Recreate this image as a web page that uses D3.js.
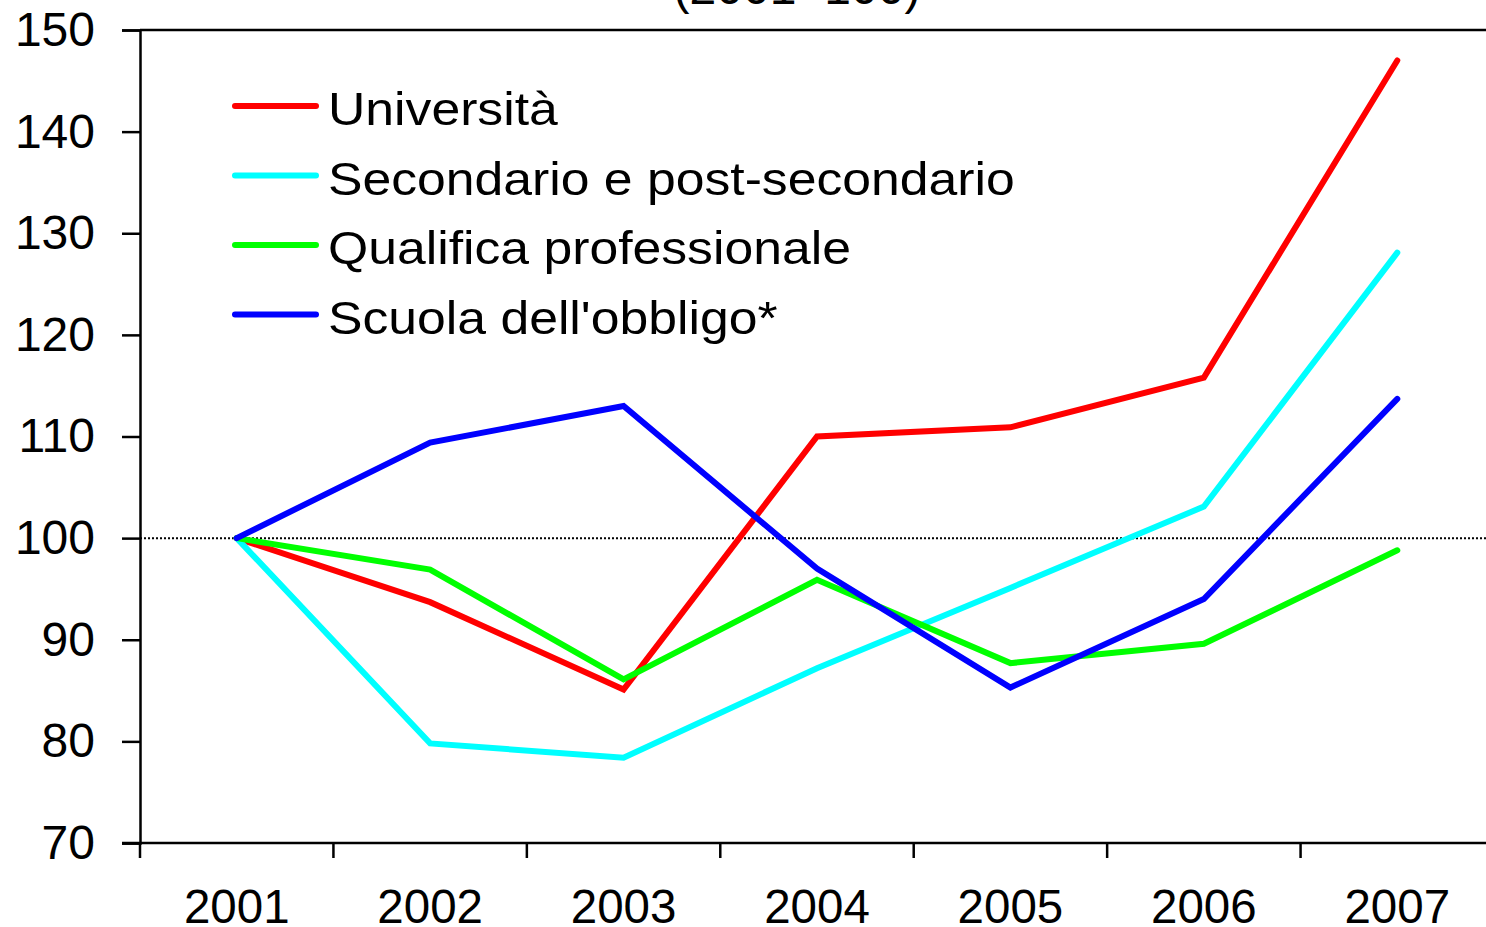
<!DOCTYPE html>
<html>
<head>
<meta charset="utf-8">
<script src="https://cdn.jsdelivr.net/npm/d3@7"></script>
<style>
  body { margin: 0; background: #fff; }
  svg { display: block; font-family: "Liberation Sans", Arial, sans-serif; }
</style>
</head>
<body>
<div id="chart-area"></div>
<script>
// data
const years = ["2001", "2002", "2003", "2004", "2005", "2006", "2007"];
const universita = [100, 93.7, 85.1, 110, 110.9, 115.8, 147];
const secondario = [100, 79.8, 78.4, 87.2, 95.1, 103.1, 128.1];
const qualifica = [100, 96.9, 86.1, 95.9, 87.7, 89.6, 98.8];
const obbligo = [100, 109.4, 113, 97, 85.3, 94, 113.7];
const seriesNames = ["Università", "Secondario e post-secondario", "Qualifica professionale", "Scuola dell'obbligo*"];
const yTicks = [70, 80, 90, 100, 110, 120, 130, 140, 150];

const series = [
    { name: seriesNames[0], values: universita, color: "#ff0000" },
    { name: seriesNames[1], values: secondario, color: "#00ffff" },
    { name: seriesNames[2], values: qualifica, color: "#00ff00" },
    { name: seriesNames[3], values: obbligo, color: "#0000ff" }
];

const W = 1486, H = 927;
const LEFT = 140, RIGHT = 1494, TOP = 30, BOTTOM = 843;

const svg = d3.select("#chart-area").append("svg")
    .attr("width", W)
    .attr("height", H)

const x = d3.scaleBand()
    .domain(years)
    .range([LEFT, RIGHT])

const y = d3.scaleLinear()
    .domain([70, 150])
    .range([BOTTOM, TOP])

// title (cut off at the top)
svg.append("text")
    .attr("x", 797)
    .attr("y", 4)
    .attr("text-anchor", "middle")
    .attr("font-size", 48)
    .text("(2001=100)")

// top border
svg.append("line")
    .attr("x1", LEFT).attr("x2", W)
    .attr("y1", y(150)).attr("y2", y(150))
    .attr("stroke", "#000").attr("stroke-width", 2.5)

// reference line at 100
svg.append("line")
    .attr("x1", LEFT).attr("x2", W)
    .attr("y1", y(100)).attr("y2", y(100))
    .attr("stroke", "#000").attr("stroke-width", 2)
    .attr("stroke-dasharray", "2,2")

// y axis
const yAxis = svg.append("g")
    .attr("transform", `translate(${LEFT},0)`)
    .call(d3.axisLeft(y).tickValues(yTicks).tickSize(18).tickPadding(27))
yAxis.select(".domain").attr("stroke-width", 2.5)
yAxis.selectAll(".tick line").attr("stroke-width", 2.5)
yAxis.selectAll("text")
    .attr("font-size", 48)
    .attr("font-family", "Liberation Sans, Arial, sans-serif")
    .attr("fill", "#000")

// x axis, ticks sit between the years
const xAxis = svg.append("g")
    .attr("transform", `translate(0,${BOTTOM})`)
xAxis.append("line")
    .attr("x1", LEFT - 18).attr("x2", W)
    .attr("stroke", "#000").attr("stroke-width", 2.5)
xAxis.selectAll(".tk")
    .data(years)
    .enter().append("line")
    .attr("class", "tk")
    .attr("x1", d => x(d)).attr("x2", d => x(d))
    .attr("y1", 0).attr("y2", 15)
    .attr("stroke", "#000").attr("stroke-width", 2.5)
xAxis.selectAll(".lbl")
    .data(years)
    .enter().append("text")
    .attr("class", "lbl")
    .attr("x", d => x(d) + x.bandwidth() / 2)
    .attr("y", 80)
    .attr("text-anchor", "middle")
    .attr("font-size", 47.5)
    .text(d => d)

// lines
const line = d3.line()
    .x((d, i) => x(years[i]) + x.bandwidth() / 2)
    .y(d => y(d))

svg.selectAll(".series")
    .data(series)
    .enter().append("path")
    .attr("class", "series")
    .attr("d", d => line(d.values))
    .attr("fill", "none")
    .attr("stroke", d => d.color)
    .attr("stroke-width", 6)
    .attr("stroke-linecap", "round")

// legend
const legend = svg.selectAll(".legend")
    .data(series)
    .enter().append("g")
    .attr("class", "legend")
    .attr("transform", (d, i) => `translate(235, ${106 + i * 69.5})`)

legend.append("line")
    .attr("x1", 0).attr("x2", 81)
    .attr("stroke", d => d.color)
    .attr("stroke-width", 6)
    .attr("stroke-linecap", "round")

legend.append("text")
    .attr("transform", "translate(93, 19) scale(1.1, 1)")
    .attr("font-size", 47)
    .text(d => d.name)
</script>
</body>
</html>
